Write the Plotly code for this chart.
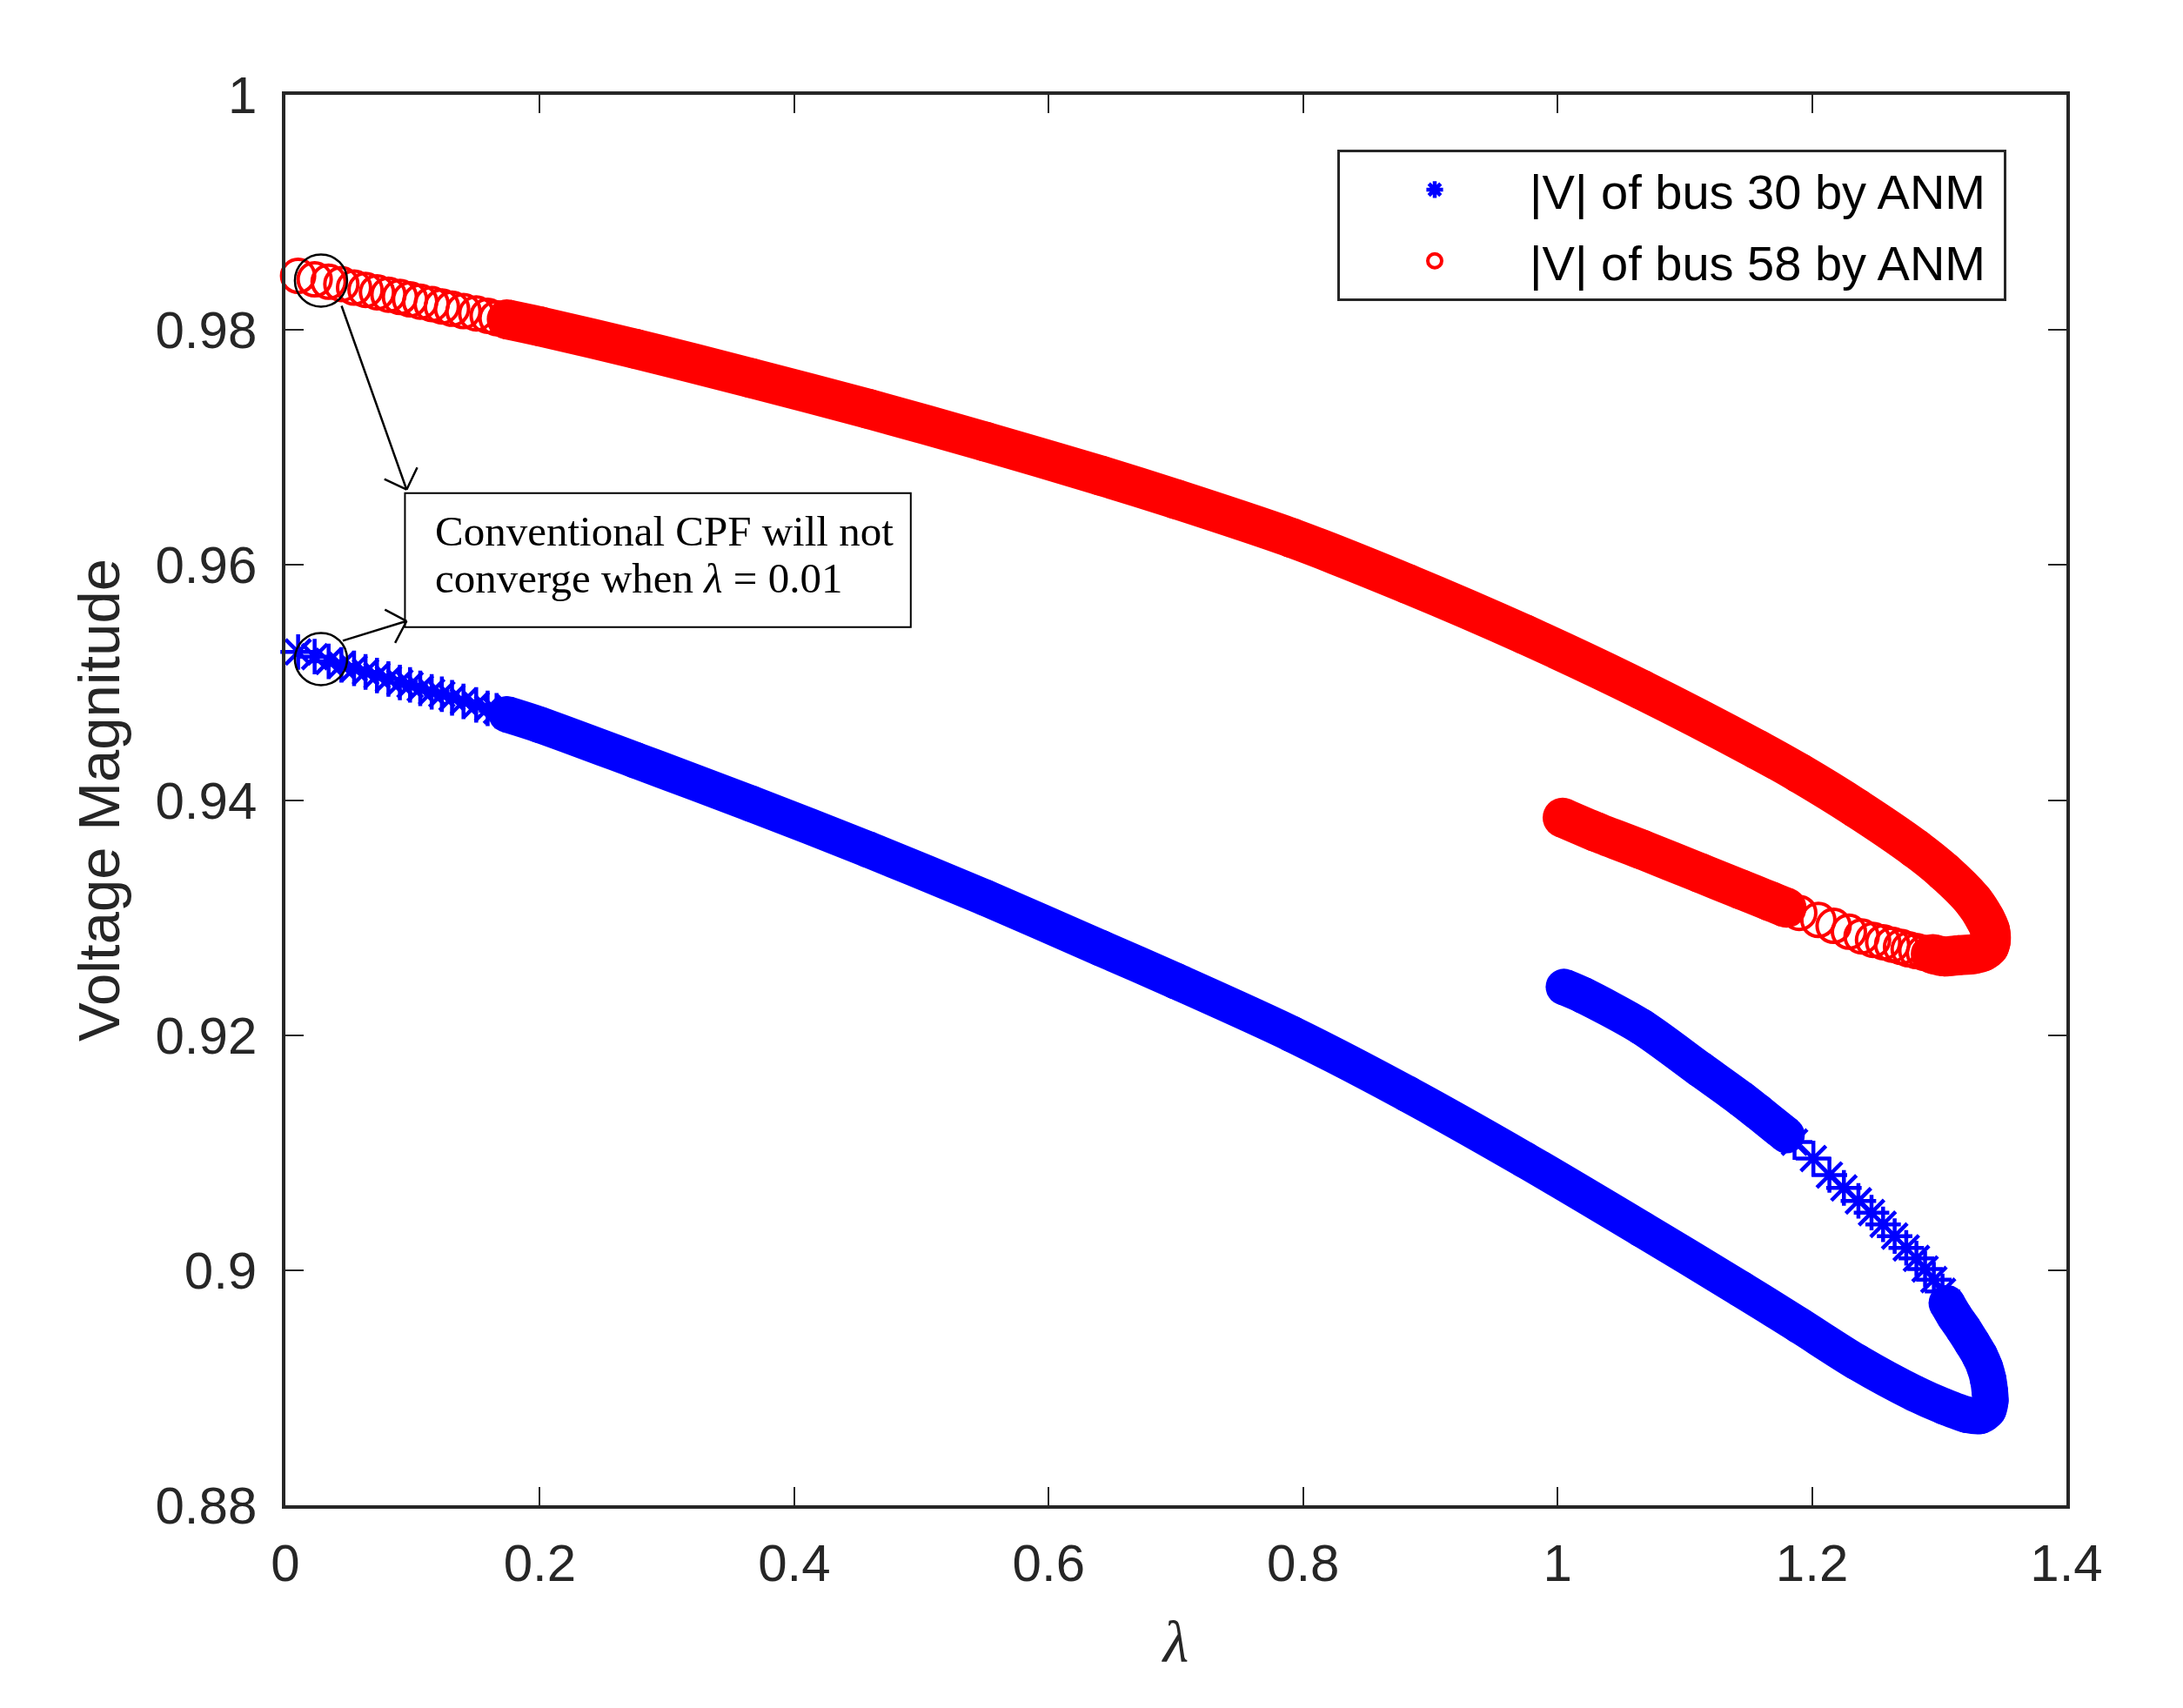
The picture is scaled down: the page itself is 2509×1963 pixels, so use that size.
import math
import plotly.graph_objects as go

# ---------------- data ----------------
# continuation parameter values of the first (sparse) CPF steps, shared by both buses
lam_start = [0.010, 0.023, 0.034, 0.044, 0.054, 0.063, 0.072, 0.081, 0.090, 0.098,
             0.106, 0.115, 0.123, 0.131, 0.140, 0.150, 0.159, 0.166, 0.174]

# bus 58 (red circles)
v58_start = [0.9846, 0.9843, 0.9841, 0.9839, 0.9836, 0.9834, 0.9832, 0.9830, 0.9828, 0.9826,
             0.9824, 0.9822, 0.9820, 0.9818, 0.9816, 0.9814, 0.9812, 0.9810, 0.9809]
lam58_dense_a = [0.174, 0.200, 0.275, 0.366, 0.458, 0.550, 0.641, 0.700, 0.791, 0.882,
                 0.974, 1.066, 1.157, 1.190, 1.235, 1.281, 1.304, 1.327, 1.336, 1.340,
                 1.3405, 1.339, 1.334, 1.327, 1.315, 1.304, 1.295]
v58_dense_a = [0.9809, 0.9803, 0.9784, 0.9759, 0.9733, 0.9705, 0.9676, 0.9656, 0.9623, 0.9584,
               0.9541, 0.9494, 0.9443, 0.9423, 0.9393, 0.9359, 0.9339, 0.9314, 0.9299, 0.9289,
               0.9280, 0.9275, 0.9271, 0.9269, 0.9268, 0.9267, 0.9269]
lam58_return = [1.292, 1.288, 1.282, 1.276, 1.270, 1.263, 1.256, 1.248, 1.239, 1.229,
                1.217, 1.205, 1.190]
v58_return = [0.9269, 0.9270, 0.92715, 0.9273, 0.9275, 0.9277, 0.9279, 0.9281, 0.9284, 0.9288,
              0.9293, 0.9298, 0.9304]
lam58_dense_b = [1.180, 1.167, 1.144, 1.112, 1.066, 1.030, 1.004]
v58_dense_b = [0.93083, 0.9314, 0.9324, 0.9338, 0.9358, 0.9373, 0.9385]

# bus 30 (blue asterisks)
v30_start = [0.9526, 0.9522, 0.9518, 0.9515, 0.9512, 0.9509, 0.9506, 0.9503, 0.9500, 0.9498,
             0.9495, 0.9492, 0.9490, 0.9487, 0.9484, 0.9481, 0.9478, 0.9476, 0.9473]
lam30_dense_a = [0.174, 0.200, 0.275, 0.366, 0.458, 0.550, 0.641, 0.700, 0.791, 0.882,
                 0.974, 1.066, 1.144, 1.190, 1.235, 1.281, 1.304, 1.322, 1.332, 1.3385,
                 1.3402, 1.3398, 1.3385, 1.336, 1.332, 1.326, 1.319, 1.312, 1.306]
v30_dense_a = [0.9473, 0.9464, 0.9434, 0.9397, 0.9358, 0.9317, 0.9274, 0.9246, 0.9201, 0.9150,
               0.9094, 0.9035, 0.8984, 0.8953, 0.8922, 0.8895, 0.8884, 0.8877, 0.8876, 0.8881,
               0.8889, 0.8897, 0.8907, 0.8917, 0.8927, 0.8938, 0.8950, 0.8961, 0.8972]
lam30_return = [1.3026, 1.2958, 1.2889, 1.2821, 1.2741, 1.2650, 1.2559, 1.2468, 1.2365, 1.2251,
                1.2137, 1.2011, 1.1863]
v30_return = [0.8982, 0.8992, 0.9001, 0.9010, 0.9019, 0.9029, 0.9039, 0.9049, 0.9059, 0.9070,
              0.9081, 0.9095, 0.9109]
lam30_dense_b = [1.180, 1.157, 1.144, 1.112, 1.066, 1.020, 1.005]
v30_dense_b = [0.9115, 0.9135, 0.9146, 0.9171, 0.9207, 0.9234, 0.9241]

# highlighted points (black rings) and the arrows pointing at the note
lam_mark = [0.028, 0.028]
v_mark = [0.9842, 0.9520]
arrow_tail_lam = [0.0438, 0.0441]
arrow_tail_v = [0.98216, 0.95352]
arrow_tip_lam = [0.0953, 0.0953]
arrow_tip_v = [0.96641, 0.95523]

# note box (lambda range, V range) and its text lines
note_box_lam = [0.094, 0.4916]
note_box_v = [0.95472, 0.96611]
note_text_lam = 0.116
note_text_v = [0.96284, 0.95885]
note_lines = ["Conventional CPF will not", "converge when <i>λ</i> = 0.01"]

names = ["|V| of bus 30 by ANM", "|V| of bus 58 by ANM"]

x_ticks = [0, 0.2, 0.4, 0.6, 0.8, 1.0, 1.2, 1.4]
x_tick_labels = ["0", "0.2", "0.4", "0.6", "0.8", "1", "1.2", "1.4"]
y_ticks = [0.88, 0.90, 0.92, 0.94, 0.96, 0.98, 1.00]
y_tick_labels = ["0.88", "0.9", "0.92", "0.94", "0.96", "0.98", "1"]

# ---------------- figure ----------------
PAGE_PAD = 8                      # default body margin of the html page
W, H = 2509 - 2 * PAGE_PAD, 1963 - 2 * PAGE_PAD
PX_L, PX_R, PX_T, PX_B = 328, 2375, 109, 1730   # plot box on the page
ML, MT = PX_L - PAGE_PAD, PX_T - PAGE_PAD
MR, MB = W - (PX_R - PAGE_PAD), H - (PX_B - PAGE_PAD)
XR = [0, 1.4]
YR = [0.88, 1.0]
sx = (PX_R - PX_L) / (XR[1] - XR[0])
sy = (PX_B - PX_T) / (YR[1] - YR[0])

BLUE = "rgb(0,0,255)"
RED = "rgb(255,0,0)"
AX = "#262626"

fig = go.Figure()

# dense parts of the traces (markers overlap into a solid band)
for lx, vy, col, w in [(lam30_dense_a, v30_dense_a, BLUE, 42),
                       (lam30_dense_b, v30_dense_b, BLUE, 42),
                       (lam58_dense_a, v58_dense_a, RED, 46),
                       (lam58_dense_b, v58_dense_b, RED, 46)]:
    fig.add_trace(go.Scatter(
        x=lx, y=vy, mode="lines+markers",
        line=dict(color=col, width=w, shape="spline", smoothing=0.8),
        marker=dict(symbol="circle", size=w, color=col, line=dict(width=0)),
        showlegend=False, hoverinfo="skip", cliponaxis=False))

# individually visible markers
fig.add_trace(go.Scatter(
    x=lam_start + lam30_return, y=v30_start + v30_return, mode="markers",
    name=names[0] + "\u00a0",
    marker=dict(symbol="asterisk-open", size=34, color=BLUE, line=dict(width=4.5, color=BLUE)),
    cliponaxis=False, legendgroup="a"))
fig.add_trace(go.Scatter(
    x=lam_start + lam58_return, y=v58_start + v58_return, mode="markers",
    name=names[1] + "\u00a0",
    marker=dict(symbol="circle-open", size=38, color=RED, line=dict(width=4, color=RED)),
    cliponaxis=False, legendgroup="b"))

# black rings around the highlighted points
fig.add_trace(go.Scatter(
    x=lam_mark, y=v_mark, mode="markers",
    marker=dict(symbol="circle-open", size=60, color="black", line=dict(width=2.5, color="black")),
    showlegend=False, hoverinfo="skip", cliponaxis=False))

annotations = []
for i in range(2):
    tip = (arrow_tip_lam[i], arrow_tip_v[i])
    tail = (arrow_tail_lam[i], arrow_tail_v[i])
    annotations.append(dict(
        x=tip[0], y=tip[1], xref="x", yref="y", ax=tail[0], ay=tail[1],
        axref="x", ayref="y", text="", showarrow=True, arrowhead=0,
        arrowwidth=2.5, arrowcolor="black", standoff=0, startstandoff=0))
    # arrowhead arms, open "V" at +-45 degrees
    dx = (tail[0] - tip[0]) * sx
    dy = -(tail[1] - tip[1]) * sy
    n = math.hypot(dx, dy)
    ux, uy = dx / n, dy / n
    for ang in (math.pi / 4, -math.pi / 4):
        c, s = math.cos(ang), math.sin(ang)
        ax_, ay_ = (ux * c - uy * s) * 30, (ux * s + uy * c) * 30
        annotations.append(dict(
            x=tip[0], y=tip[1], xref="x", yref="y", ax=ax_, ay=ay_,
            axref="pixel", ayref="pixel", text="", showarrow=True, arrowhead=0,
            arrowwidth=2.5, arrowcolor="black", standoff=0, startstandoff=0))

for t, vy in zip(note_lines, note_text_v):
    annotations.append(dict(
        x=note_text_lam, y=vy, xref="x", yref="y", xanchor="left", yanchor="middle",
        text=t, showarrow=False, align="left",
        font=dict(family="Liberation Serif, Times New Roman, serif", size=49, color="black")))

shapes = [dict(type="rect", xref="x", yref="y",
               x0=note_box_lam[0], x1=note_box_lam[1], y0=note_box_v[0], y1=note_box_v[1],
               line=dict(color="black", width=2), fillcolor="white", layer="above")]

tickfont = dict(family="Liberation Sans, Arial, sans-serif", size=60, color=AX)
axis_common = dict(ticks="inside", ticklen=21, tickwidth=2, tickcolor=AX,
                   showline=True, linewidth=3.5, linecolor=AX, mirror="allticks",
                   showgrid=False, zeroline=False, tickfont=tickfont)

fig.update_layout(
    width=W, height=H,
    margin=dict(l=ML, r=MR, t=MT, b=MB, pad=0),
    paper_bgcolor="white", plot_bgcolor="white",
    xaxis=dict(range=XR, tickvals=x_ticks, ticktext=x_tick_labels, ticklabelstandoff=11,
               title=dict(text="<i>λ</i>", standoff=35,
                          font=dict(family="Liberation Serif, Times New Roman, serif", size=68, color=AX)),
               **axis_common),
    yaxis=dict(range=YR, tickvals=y_ticks, ticktext=y_tick_labels, ticklabelstandoff=17,
               title=dict(text="Voltage Magnitude", standoff=20,
                          font=dict(family="Liberation Sans, Arial, sans-serif", size=67, color=AX)),
               **axis_common),
    legend=dict(x=(1537 - PX_L) / (PX_R - PX_L), y=(PX_B - 172) / (PX_B - PX_T),
                xanchor="left", yanchor="top", bgcolor="white",
                bordercolor=AX, borderwidth=3, itemwidth=208, tracegroupgap=6,
                font=dict(family="Liberation Sans, Arial, sans-serif", size=56, color="black")),
    annotations=annotations,
    shapes=shapes,
    showlegend=True,
)

fig.write_html("out.html")
